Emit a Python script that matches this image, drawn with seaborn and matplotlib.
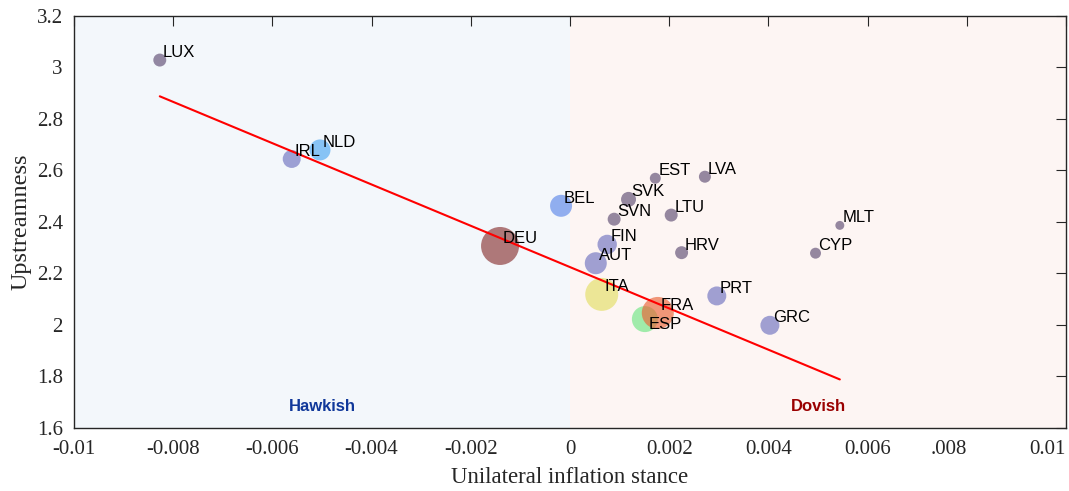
import numpy as np
import pandas as pd
import matplotlib
matplotlib.use("Agg")
import matplotlib.pyplot as plt
import seaborn as sns

# Euro-area countries: unilateral inflation stance vs. upstreamness
countries = ["LUX", "IRL", "NLD", "BEL", "DEU", "EST", "LVA", "SVK", "SVN", "LTU",
             "FIN", "AUT", "HRV", "ITA", "PRT", "MLT", "CYP", "GRC", "ESP", "FRA"]
stance = [-0.00827, -0.00561, -0.00504, -0.00018, -0.00141, 0.00172, 0.00272, 0.00118,
          0.00089, 0.00204, 0.00075, 0.00052, 0.00225, 0.00064, 0.00296, 0.00544,
          0.00495, 0.00403, 0.00151, 0.00177]
upstreamness = [3.027, 2.643, 2.678, 2.461, 2.305, 2.568, 2.574, 2.486, 2.409, 2.425,
                2.311, 2.238, 2.279, 2.117, 2.111, 2.385, 2.277, 1.997, 2.021, 2.045]
# bubble weight (economic size)
weight = [42, 81, 110, 121, 361, 30, 36, 56, 42, 42,
          94, 121, 42, 272, 90, 20, 30, 90, 169, 256]

# fitted line: upstreamness = intercept + slope * stance
fit_intercept = 2.223
fit_slope = -80.2

x_ticks = [-0.01, -0.008, -0.006, -0.004, -0.002, 0, 0.002, 0.004, 0.006, 0.008, 0.01]
x_ticklabels = ["-0.01", "-0.008", "-0.006", "-0.004", "-0.002", "0",
                "0.002", "0.004", "0.006", ".008", "0.01"]
y_ticks = [1.6, 1.8, 2.0, 2.2, 2.4, 2.6, 2.8, 3.0, 3.2]
y_ticklabels = ["1.6", "1.8", "2", "2.2", "2.4", "2.6", "2.8", "3", "3.2"]

df = pd.DataFrame({"country": countries, "stance": stance,
                   "upstreamness": upstreamness, "weight": weight})

small = "#5e4c73"
mid = "#6e72c0"
palette = {c: small for c in countries}
palette.update({c: mid for c in ["IRL", "FIN", "AUT", "PRT", "GRC"]})
palette.update({"DEU": "#8a3434", "NLD": "#4da7f2", "BEL": "#5c88ea",
                "ITA": "#e4de64", "FRA": "#e96336", "ESP": "#6ee683"})

sns.set_theme(style="white")
plt.rcParams["font.family"] = ["Liberation Serif", "DejaVu Serif"]

fig, ax = plt.subplots(figsize=(10.69, 4.91), dpi=100)
fig.subplots_adjust(left=0.0692, right=0.9972, bottom=0.1293, top=0.9684)

ax.set_xlim(-0.01, 0.01)
ax.set_ylim(1.6, 3.2)
ax.axvspan(-0.01, 0, color="#f3f7fb", zorder=0, lw=0)
ax.axvspan(0, 0.01, color="#fdf5f3", zorder=0, lw=0)

dmax = 38 * 0.72  # largest bubble diameter in points
sns.scatterplot(data=df, x="stance", y="upstreamness", hue="country",
                palette=palette, size="weight", sizes=(0, dmax ** 2),
                size_norm=(0, max(weight)), alpha=0.65, linewidth=0,
                legend=False, ax=ax, zorder=2)

xs = np.array([min(stance), max(stance)])
ax.plot(xs, fit_intercept + fit_slope * xs, color="#ff0000", lw=1.5, zorder=3)

label_offsets = {"ESP": (3.0, -7.2)}
for c, x, y in zip(countries, stance, upstreamness):
    dx, dy = label_offsets.get(c, (2.2, 2.2))
    ax.annotate(c, (x, y), xytext=(dx, dy), textcoords="offset points",
                ha="left", va="baseline", fontsize=12,
                family=["Liberation Sans", "DejaVu Sans"], color="black", zorder=4)

ax.text(-0.005, 1.68, "Hawkish", ha="center", va="center", fontsize=12,
        fontweight="bold", color="#10389a", family=["Liberation Sans", "DejaVu Sans"])
ax.text(0.005, 1.68, "Dovish", ha="center", va="center", fontsize=12,
        fontweight="bold", color="#9a0000", family=["Liberation Sans", "DejaVu Sans"])

ax.set_xticks(x_ticks)
ax.set_xticklabels(x_ticklabels)
ax.set_yticks(y_ticks)
ax.set_yticklabels(y_ticklabels)
ax.tick_params(direction="in", length=7, width=0.8, colors="#262626",
               labelsize=15, top=True, right=True)
ax.tick_params(axis="y", pad=8)
ax.tick_params(axis="x", pad=9)
# keep the last two labels inside the figure edge
for lab in ax.get_xticklabels()[-2:]:
    lab.set_horizontalalignment("right")
for s in ax.spines.values():
    s.set_visible(True)
    s.set_color("#262626")
    s.set_linewidth(1.0)

ax.set_xlabel("Unilateral inflation stance", fontsize=16.5, color="#262626",
              labelpad=6)
ax.set_ylabel("Upstreamness", fontsize=17.5, color="#262626", labelpad=4)

fig.savefig("out.png", dpi=100)
